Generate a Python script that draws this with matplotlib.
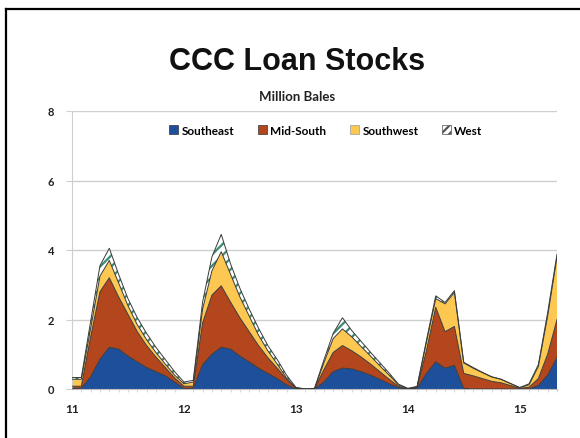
import matplotlib
matplotlib.use("Agg")
from matplotlib import pyplot as plt
from matplotlib.patches import Patch
from matplotlib.lines import Line2D
import numpy as np

# monthly CCC loan stocks, million bales
months = np.arange(53)
southeast = [0.02, 0.02, 0.35, 0.86, 1.20, 1.15, 0.95, 0.78, 0.62, 0.50, 0.38, 0.20, 0.02,
             0.02, 0.70, 1.00, 1.20, 1.15, 0.95, 0.78, 0.60, 0.45, 0.30, 0.12, 0.00,
             0.00, 0.00, 0.20, 0.50, 0.60, 0.58, 0.50, 0.40, 0.28, 0.15, 0.04, 0.00,
             0.02, 0.45, 0.78, 0.60, 0.68, 0.02, 0.00, 0.00, 0.00, 0.00, 0.00, 0.00,
             0.00, 0.10, 0.40, 0.90]
mid_south = [0.06, 0.06, 1.15, 1.94, 2.00, 1.50, 1.20, 0.87, 0.63, 0.42, 0.24, 0.12, 0.06,
             0.06, 1.20, 1.70, 1.77, 1.35, 1.10, 0.87, 0.65, 0.45, 0.30, 0.16, 0.02,
             0.00, 0.00, 0.35, 0.55, 0.65, 0.52, 0.42, 0.32, 0.22, 0.13, 0.04, 0.00,
             0.03, 0.65, 1.57, 1.05, 1.12, 0.43, 0.38, 0.30, 0.22, 0.18, 0.10, 0.02,
             0.05, 0.20, 0.60, 1.10]
southwest = [0.20, 0.20, 0.25, 0.45, 0.50, 0.40, 0.25, 0.20, 0.17, 0.13, 0.10, 0.08, 0.07,
             0.12, 0.40, 0.70, 0.98, 0.80, 0.60, 0.45, 0.30, 0.20, 0.12, 0.04, 0.01,
             0.00, 0.00, 0.20, 0.40, 0.48, 0.40, 0.30, 0.23, 0.17, 0.12, 0.04, 0.01,
             0.02, 0.25, 0.25, 0.80, 0.98, 0.30, 0.22, 0.17, 0.13, 0.10, 0.06, 0.02,
             0.07, 0.35, 1.10, 1.80]
west = [0.05, 0.05, 0.20, 0.30, 0.35, 0.25, 0.20, 0.20, 0.18, 0.15, 0.13, 0.10, 0.05,
        0.05, 0.20, 0.40, 0.50, 0.30, 0.25, 0.20, 0.20, 0.15, 0.13, 0.08, 0.02,
        0.00, 0.02, 0.08, 0.15, 0.32, 0.18, 0.15, 0.11, 0.09, 0.06, 0.02, 0.01,
        0.00, 0.05, 0.08, 0.04, 0.05, 0.02, 0.02, 0.01, 0.00, 0.00, 0.00, 0.00,
        0.03, 0.05, 0.10, 0.08]
year_ticks = [11, 12, 13, 14, 15]
names = ['Southeast', 'Mid-South', 'Southwest', 'West']
colors = ['#1d4f9b', '#b3461c', '#fdc852', 'white']

x = 11 + months / 12.0
layers = np.array([southeast, mid_south, southwest, west])
tops = np.cumsum(layers, axis=0)

plt.rcParams['hatch.linewidth'] = 1.6
fig = plt.figure(figsize=(5.8, 4.39), dpi=100)
ax = fig.add_axes([72 / 580, 49 / 439, 485 / 580, 278 / 439])

base = np.zeros(len(x))
for i, name in enumerate(names):
    if name == 'West':
        ax.fill_between(x, base, tops[i], facecolor='white', edgecolor='#3f8a72',
                        hatch='///', linewidth=0, zorder=2)
    else:
        ax.fill_between(x, base, tops[i], facecolor=colors[i], edgecolor='none',
                        linewidth=0, zorder=2)
    ax.plot(x, tops[i], color='#3a3a3a', lw=0.7, zorder=3)
    base = tops[i]

ax.set_xlim(11, x[-1])
ax.set_ylim(0, 8)
ax.set_yticks([0, 2, 4, 6, 8])
ax.set_xticks(year_ticks)
ax.set_xticks(x, minor=True)
ax.grid(axis='y', color='#cfcfcf', lw=1.0, zorder=0)
ax.set_axisbelow(True)
for s in ['top', 'right']:
    ax.spines[s].set_visible(False)
ax.spines['left'].set_color('#cfcfcf')
ax.spines['bottom'].set_color('#bdbdbd')
ax.tick_params(axis='y', length=4, color='#cfcfcf', pad=9, labelsize=8, labelcolor='#222222')
ax.tick_params(axis='x', which='major', length=0, pad=10, labelsize=8.5, labelcolor='#222222')
ax.tick_params(axis='x', which='minor', length=2, color='#d0d0d0')
for lab in ax.get_xticklabels() + ax.get_yticklabels():
    lab.set_fontweight('bold')
    lab.set_family('Lato')

fig.text(0.512, 0.859, 'CCC Loan Stocks', ha='center', va='center',
         fontsize=22, fontweight='bold', family='Liberation Sans', color='#111111')
fig.text(0.512, 0.779, 'Million Bales', ha='center', va='center',
         fontsize=9.5, fontweight='bold', family='Lato', color='#222222')

handles = [Patch(facecolor=colors[0], edgecolor='#333333', lw=0.5),
           Patch(facecolor=colors[1], edgecolor='#333333', lw=0.5),
           Patch(facecolor=colors[2], edgecolor='#999999', lw=0.5),
           Patch(facecolor='white', edgecolor='#555555', hatch='////', lw=0.5)]
leg = fig.legend(handles, names, loc='center', bbox_to_anchor=(0.562, 0.701), ncol=4,
                 frameon=False, handlelength=0.75, handleheight=0.75, handletextpad=0.3,
                 columnspacing=2.0, prop={'family': 'Lato', 'weight': 'bold', 'size': 8.5})

# black frame (left and top edges, as in the scanned slide)
fig.add_artist(Line2D([6 / 580, 6 / 580], [0, 1 - 10 / 439], color='black', lw=1.6,
                      transform=fig.transFigure))
fig.add_artist(Line2D([6 / 580, 1], [1 - 10 / 439, 1 - 10 / 439], color='black', lw=1.6,
                      transform=fig.transFigure))

fig.savefig('out.png', dpi=100)
